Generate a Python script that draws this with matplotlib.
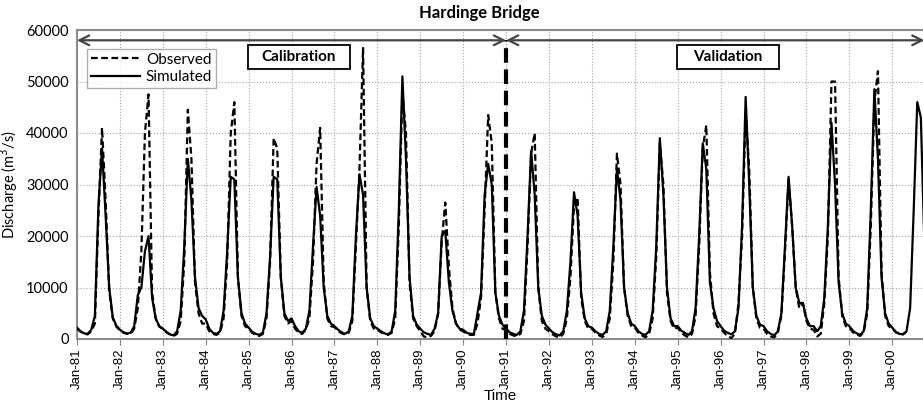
import numpy as np
import matplotlib
matplotlib.use("Agg")
import matplotlib.pyplot as plt
from matplotlib.patches import Rectangle

plt.rcParams['font.family'] = ['Lato', 'DejaVu Sans']

# ---------------- data (monthly, m3/s), Jan-1981 onward ----------------
years = list(range(1981, 2001))
tick_labels = ["Jan-%02d" % (y % 100) for y in years]

sim_1981 = [2200, 1500, 1100, 1000, 1800, 4500, 26000, 37000, 24000, 10000, 4200, 2600]
sim_1982 = [1800, 1300, 1100, 1200, 2500, 8500, 10000, 17000, 20000, 8000, 4000, 2500]
sim_1983 = [2000, 1400, 900, 700, 1500, 5500, 18000, 35000, 27000, 12000, 6000, 4500]
sim_1984 = [3800, 2000, 1200, 1000, 1500, 5500, 17000, 31500, 31000, 12000, 5000, 3000]
sim_1985 = [2200, 1400, 1000, 800, 1300, 5000, 16000, 31500, 31000, 12000, 5000, 3500]
sim_1986 = [4000, 2500, 1500, 1200, 2000, 5500, 18000, 29500, 24000, 10000, 4500, 3000]
sim_1987 = [2500, 1800, 1300, 1000, 1500, 4500, 20000, 32000, 28000, 10000, 4000, 2500]
sim_1988 = [2000, 1500, 1100, 900, 1500, 5500, 25000, 51000, 35000, 12000, 4500, 2800]
sim_1989 = [2000, 1300, 1000, 800, 2000, 5000, 20000, 21000, 11000, 5500, 3000, 2000]
sim_1990 = [1800, 1200, 1000, 1000, 5000, 9000, 28000, 34000, 30000, 9000, 4500, 2800]
sim_1991 = [2000, 1300, 1000, 800, 1500, 5500, 20000, 36500, 28000, 10000, 4500, 2800]
sim_1992 = [2000, 1300, 900, 700, 1500, 5500, 15000, 28500, 24000, 9000, 4000, 2500]
sim_1993 = [2200, 1500, 1000, 800, 1500, 5500, 18000, 33000, 27000, 10000, 5000, 3000]
sim_1994 = [2500, 1500, 1000, 800, 1500, 5500, 18000, 39000, 28000, 10000, 4000, 2500]
sim_1995 = [2500, 1600, 1200, 800, 1500, 6000, 20000, 38000, 33000, 11000, 6000, 3500]
sim_1996 = [2500, 1600, 1200, 900, 1500, 6000, 22000, 47000, 30000, 10000, 4500, 2800]
sim_1997 = [2500, 1500, 1000, 700, 1500, 5000, 18000, 31500, 22000, 10000, 7000, 7000]
sim_1998 = [4000, 2500, 2500, 1500, 2500, 8000, 22000, 42000, 30000, 11000, 5000, 3000]
sim_1999 = [2500, 1600, 1100, 800, 1500, 6000, 25000, 48500, 35000, 12000, 5000, 3000]
sim_2000 = [2200, 1400, 1000, 900, 1500, 6000, 25000, 46000, 43000, 18000]

obs_1981 = [2000, 1400, 1000, 900, 1500, 3000, 24000, 41000, 27000, 9500, 4000, 2400]
obs_1982 = [1700, 1200, 1000, 1000, 2000, 6000, 17000, 40000, 47500, 9000, 4000, 2400]
obs_1983 = [2000, 1300, 900, 600, 1000, 3500, 15000, 44500, 35000, 11000, 5000, 3000]
obs_1984 = [3000, 1500, 1000, 800, 1200, 4000, 15000, 40000, 46000, 12000, 4500, 2500]
obs_1985 = [2000, 1200, 800, 600, 1000, 4000, 15000, 39000, 37000, 12000, 4500, 3000]
obs_1986 = [3500, 2000, 1200, 1000, 1800, 4000, 15000, 34000, 41000, 11000, 4000, 2500]
obs_1987 = [2300, 1600, 1100, 900, 1200, 3500, 18000, 33000, 56500, 10000, 3500, 2000]
obs_1988 = [1800, 1300, 1000, 800, 1200, 4000, 22000, 48000, 40000, 11000, 4000, 2500]
obs_1989 = [1500, 500, 300, 600, 1500, 5000, 19000, 26500, 14000, 6000, 3000, 1800]
obs_1990 = [1500, 1000, 800, 800, 3000, 8000, 25000, 43500, 38000, 9000, 4000, 2000]
obs_1991 = [1700, 1000, 700, 500, 1000, 3500, 18000, 36000, 40000, 10000, 3500, 2000]
obs_1992 = [1500, 900, 500, 300, 1000, 4000, 12000, 26000, 27500, 8000, 3500, 2000]
obs_1993 = [2000, 1200, 700, 400, 1000, 4000, 15000, 36000, 30000, 10000, 4500, 2500]
obs_1994 = [2200, 1200, 700, 300, 1000, 4000, 16000, 38000, 30000, 9000, 3500, 2000]
obs_1995 = [2200, 1200, 700, 300, 1000, 4500, 18000, 37000, 41500, 13000, 5000, 2500]
obs_1996 = [2000, 1200, 500, 200, 1000, 7000, 20000, 44000, 33000, 10000, 4000, 2200]
obs_1997 = [2000, 1000, 500, 300, 1200, 4500, 17000, 31000, 22000, 10000, 6000, 7000]
obs_1998 = [3500, 2000, 1800, 500, 1000, 7000, 20000, 50000, 50000, 12000, 4500, 2500]
obs_1999 = [2200, 1300, 900, 600, 1300, 5000, 22000, 46000, 52000, 13000, 4500, 2500]
obs_2000 = [2000, 1300, 1000, 900, 1400]

simulated = (sim_1981 + sim_1982 + sim_1983 + sim_1984 + sim_1985 + sim_1986 + sim_1987
             + sim_1988 + sim_1989 + sim_1990 + sim_1991 + sim_1992 + sim_1993 + sim_1994
             + sim_1995 + sim_1996 + sim_1997 + sim_1998 + sim_1999 + sim_2000)
observed = (obs_1981 + obs_1982 + obs_1983 + obs_1984 + obs_1985 + obs_1986 + obs_1987
            + obs_1988 + obs_1989 + obs_1990 + obs_1991 + obs_1992 + obs_1993 + obs_1994
            + obs_1995 + obs_1996 + obs_1997 + obs_1998 + obs_1999 + obs_2000)

split_year = 1991
period_labels = ['Calibration', 'Validation']

# ---------------- figure ----------------
fig = plt.figure(figsize=(9.23, 4.03), dpi=100)
ax = fig.add_axes([77/923, 64/403, 1 - 77/923, 309/403])

x_sim = np.arange(len(simulated))
x_obs = np.arange(len(observed))
ax.plot(x_obs, observed, color='black', lw=1.6, ls=(0, (3, 1.6)), label='Observed', zorder=3)
ax.plot(x_sim, simulated, color='black', lw=1.6, ls='-', label='Simulated', zorder=4)

ax.set_xlim(0, 236.6)
ax.set_ylim(0, 60000)
ax.set_yticks(np.arange(0, 60001, 10000))
ax.set_xticks(np.arange(len(years)) * 12)
ax.set_xticklabels(tick_labels, rotation=90, fontsize=9.5, family=['Liberation Sans', 'DejaVu Sans'])
ax.tick_params(axis='y', labelsize=10.5, length=0, pad=6)
ax.tick_params(axis='x', length=4, color='#888888', pad=3)
ax.grid(True, color='#a5a5a5', ls=':', lw=0.8)

for s in ['left', 'bottom', 'top']:
    ax.spines[s].set_color('#8c8c8c')
    ax.spines[s].set_linewidth(1.5)
ax.spines['right'].set_visible(False)

ax.set_xlabel('Time', fontsize=11, labelpad=0, family=['Liberation Sans', 'DejaVu Sans'])
ax.set_ylabel('Discharge (m$^3$/s)', fontsize=10.5, labelpad=4)
fig.text(479/923, 1 - 13/403, 'Hardinge Bridge', ha='center', va='center',
         fontsize=12, fontweight='bold')

# split line and period arrows
xs = (split_year - 1981) * 12
ax.axvline(xs, ymax=58000/60000, color='black', lw=3, ls=(0, (3.5, 1.6)), zorder=5)
arr_y = 58000
ax.annotate('', xy=(0, arr_y), xytext=(xs, arr_y),
            arrowprops=dict(arrowstyle='<->,head_length=0.7,head_width=0.35', color='#444444', lw=1.6,
                            shrinkA=0, shrinkB=0), zorder=6)
ax.annotate('', xy=(xs, arr_y), xytext=(237, arr_y), annotation_clip=False,
            arrowprops=dict(arrowstyle='<->,head_length=0.7,head_width=0.35', color='#444444', lw=1.6,
                            shrinkA=0, shrinkB=0), zorder=6)

# period label boxes (centres in data units)
box_w, box_h, box_yc = 28.5, 4660, 54850
for label, xc in zip(period_labels, [62.1, 182.0]):
    ax.add_patch(Rectangle((xc - box_w / 2, box_yc - box_h / 2), box_w, box_h,
                           fc='white', ec='black', lw=1.3, zorder=7))
    ax.text(xc, box_yc, label, ha='center', va='center', fontsize=11,
            fontweight='bold', zorder=8)

leg = ax.legend(loc='upper left', bbox_to_anchor=(10/846, 1 - 19/309), frameon=True,
                fancybox=False, edgecolor='#999999', fontsize=11, handlelength=3.2,
                borderpad=0.25, labelspacing=0.2, handletextpad=0.4, borderaxespad=0)
leg.get_frame().set_linewidth(1.0)

fig.savefig('out.png', dpi=100)
